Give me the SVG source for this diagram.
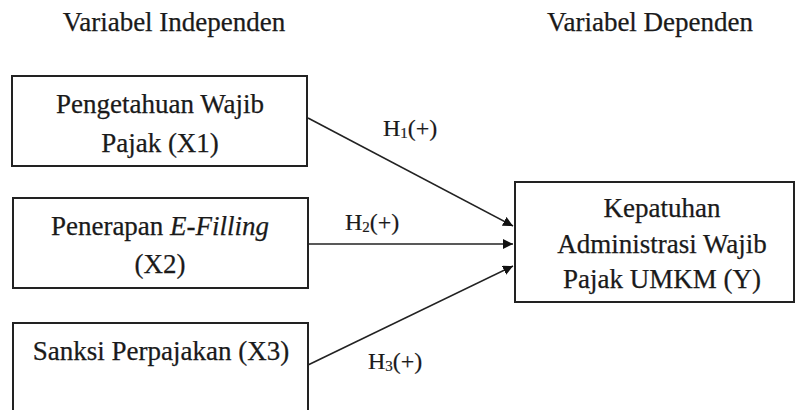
<svg xmlns="http://www.w3.org/2000/svg" width="799" height="410" viewBox="0 0 799 410">
<defs>
<style>
.box{fill:#fff;stroke:#222;stroke-width:2}
.t{font-family:"Liberation Serif","Times New Roman",serif;font-size:27px;fill:#1a1a1a;stroke:#1a1a1a;stroke-width:0.25;text-anchor:middle}
.lbl{font-family:"Liberation Serif","Times New Roman",serif;font-size:24px;fill:#1a1a1a;stroke:#1a1a1a;stroke-width:0.2}
.conn{stroke:#222;stroke-width:1.6;fill:none;marker-end:url(#ah)}
</style>
<marker id="ah" viewBox="0 0 10 10" refX="10" refY="5" markerWidth="10" markerHeight="10" markerUnits="userSpaceOnUse" orient="auto">
<path d="M0,0 L10,5 L0,10 z" fill="#111"/>
</marker>
</defs>
<rect width="799" height="410" fill="#fff"/>
<g id="titles">
<text class="t" x="174" y="31">Variabel Independen</text>
<text class="t" x="650" y="31">Variabel Dependen</text>
</g>
<g id="x1">
<rect class="box" x="12" y="76" width="295" height="90"/>
<text class="t" x="160" y="113">Pengetahuan Wajib</text>
<text class="t" x="160" y="152">Pajak (X1)</text>
</g>
<g id="x2">
<rect class="box" x="13" y="198" width="295" height="90"/>
<text class="t" x="160" y="235">Penerapan <tspan font-style="italic">E-Filling</tspan></text>
<text class="t" x="160" y="273">(X2)</text>
</g>
<g id="x3">
<rect class="box" x="13" y="323" width="295" height="100"/>
<text class="t" x="161" y="360">Sanksi Perpajakan (X3)</text>
</g>
<g id="y">
<rect class="box" x="515" y="182" width="279" height="120"/>
<text class="t" x="662" y="217">Kepatuhan</text>
<text class="t" x="662" y="253">Administrasi Wajib</text>
<text class="t" x="662" y="288">Pajak UMKM (Y)</text>
</g>
<g id="connectors">
<line class="conn" x1="308" y1="118" x2="513" y2="226"/>
<line class="conn" x1="308" y1="244" x2="513" y2="244"/>
<line class="conn" x1="308" y1="365" x2="513" y2="266"/>
<text class="lbl" x="383" y="136">H<tspan font-size="15" dy="2">1</tspan><tspan dy="-2">(+)</tspan></text>
<text class="lbl" x="345" y="230">H<tspan font-size="15" dy="2">2</tspan><tspan dy="-2">(+)</tspan></text>
<text class="lbl" x="368" y="369">H<tspan font-size="15" dy="2">3</tspan><tspan dy="-2">(+)</tspan></text>
</g>
</svg>
